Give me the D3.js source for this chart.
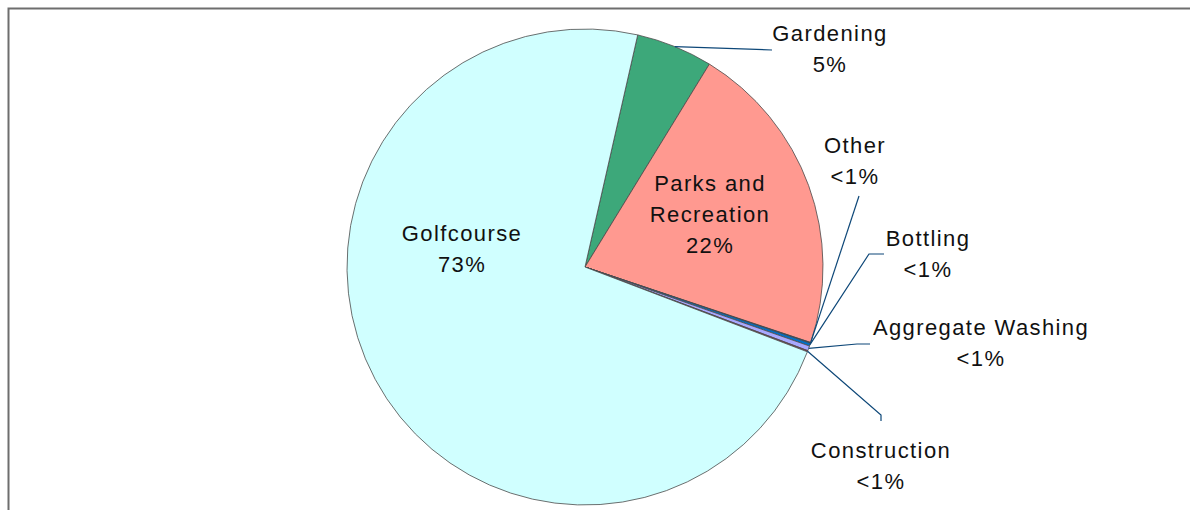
<!DOCTYPE html>
<html>
<head>
<meta charset="utf-8">
<script src="https://cdn.jsdelivr.net/npm/d3@7"></script>
<style>
  body { margin: 0; background: #fff; }
  text { font-family: "Liberation Sans", Arial, sans-serif; font-size: 22px; fill: #111; }
</style>
</head>
<body>
<script>
// data, in pie order (clockwise)
let categories = ['Gardening', 'Parks and Recreation', 'Other', 'Bottling', 'Aggregate Washing', 'Construction', 'Golfcourse']
let values = [5.2, 21.4, 0.05, 0.2, 0.33, 0.08, 72.8]
let pctLabels = ['5%', '22%', '<1%', '<1%', '<1%', '<1%', '73%']
let colors = ['#3da87a', '#ff9990', '#003d7a', '#0070c8', '#a8a8ff', '#993355', '#d0ffff']

// label layout: text lines, centre x, first baseline, optional leader end points
let labelLines = [['Gardening'], ['Parks and', 'Recreation'], ['Other'], ['Bottling'], ['Aggregate Washing'], ['Construction'], ['Golfcourse']]
let labelX = [830, 710, 855, 928, 981, 881, 462]
let labelY = [41, 191, 153, 246, 335, 458, 241]
let leaderPts = [
  [[772, 50]],
  null,
  [[859, 196]],
  [[869, 254], [884, 254]],
  [[857, 344], [870, 344]],
  [[881, 415], [881, 421]],
  null
]

let width = 1190
let height = 510
let cx = 585, cy = 267, r = 238
let lineH = 31

let svg = d3.select('body')
  .append('svg')
  .attr('width', width)
  .attr('height', height)

// frame (only top and left edges are visible)
svg.append('path')
  .attr('d', 'M8.5,' + height + 'V8.5H' + width)
  .attr('fill', 'none')
  .attr('stroke', '#6e6e6e')
  .attr('stroke-width', 2)

let start = 12.8 * Math.PI / 180
let pie = d3.pie().sort(null).startAngle(start).endAngle(start + 2 * Math.PI)
let arcs = pie(values)

let arc = d3.arc().innerRadius(0).outerRadius(r)
let rim = d3.arc().innerRadius(r).outerRadius(r)

let g = svg.append('g').attr('transform', 'translate(' + cx + ',' + cy + ')')

g.selectAll('path.slice')
  .data(arcs)
  .enter()
  .append('path')
  .attr('class', 'slice')
  .attr('d', arc)
  .attr('fill', (d, i) => colors[i])
  .attr('stroke', '#4a4a4a')
  .attr('stroke-width', 0.8)
  .attr('stroke-linejoin', 'round')

// leader lines
arcs.forEach((d, i) => {
  if (!leaderPts[i]) return
  let p = rim.centroid(d)
  let pts = [[cx + p[0], cy + p[1]]].concat(leaderPts[i])
  svg.append('path')
    .attr('d', d3.line()(pts))
    .attr('fill', 'none')
    .attr('stroke', '#0d4778')
    .attr('stroke-width', 1.2)
})

// labels
categories.forEach((c, i) => {
  let lines = labelLines[i].concat([pctLabels[i]])
  let t = svg.append('text')
    .attr('text-anchor', 'middle')
    .style('letter-spacing', '1.4px')
  lines.forEach((s, j) => {
    t.append('tspan')
      .attr('x', labelX[i])
      .attr('y', labelY[i] + j * lineH)
      .text(s)
  })
})
</script>
</body>
</html>
